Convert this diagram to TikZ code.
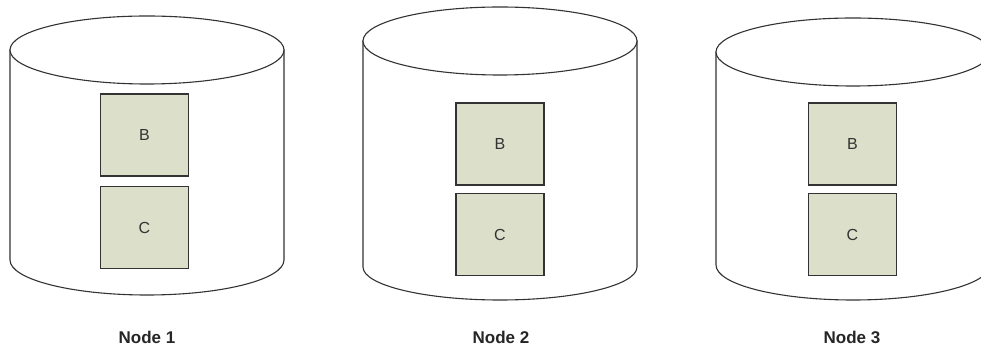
\documentclass[tikz,border=0pt]{standalone}
\usepackage{fontspec}
\setmainfont{Liberation Sans}
\definecolor{boxfill}{HTML}{DCDFCA}
\definecolor{edge}{HTML}{333333}
\tikzset{
  cylline/.style={draw=edge, line width=1.1pt, fill=white},
  itembox/.style={draw=edge, line width=1.3pt, fill=boxfill, minimum width=88pt, minimum height=82pt, inner sep=0pt, font=\fontsize{16}{18}\selectfont, text=edge},
  nodelabel/.style={font=\bfseries\fontsize{17}{20}\selectfont, text=black!85}
}
\begin{document}
\begin{tikzpicture}[x=1pt,y=1pt]
\useasboundingbox (0,0) rectangle (981,350);
\clip (0,0) rectangle (981,350);
% cylinder 1
\path[cylline] (10,90) -- (10,300) -- (284,300) -- (284,90) arc[start angle=0, end angle=-180, x radius=137, y radius=35] -- cycle;
\draw[cylline] (147,300) ellipse[x radius=137, y radius=34];
% cylinder 2
\path[cylline] (363,83) -- (363,309) -- (637,309) -- (637,83) arc[start angle=0, end angle=-180, x radius=137, y radius=33] -- cycle;
\draw[cylline] (500,309) ellipse[x radius=137, y radius=34];
% cylinder 3
\path[cylline] (716,85) -- (716,298) -- (990,298) -- (990,85) arc[start angle=0, end angle=-180, x radius=137, y radius=35] -- cycle;
\draw[cylline] (853,298) ellipse[x radius=137, y radius=34];
% boxes
\node[itembox] (b1) at (144.5,215) {B};
\node[itembox] (c1) at (144.5,122.5) {C};
\node[itembox] (b2) at (500,206) {B};
\node[itembox] (c2) at (500,115.5) {C};
\node[itembox] (b3) at (852.5,206) {B};
\node[itembox] (c3) at (852.5,115.5) {C};
% labels
\node[nodelabel] (n1) at (147,13) {Node 1};
\node[nodelabel] (n2) at (501,13) {Node 2};
\node[nodelabel] (n3) at (852,13) {Node 3};
\end{tikzpicture}
\end{document}
